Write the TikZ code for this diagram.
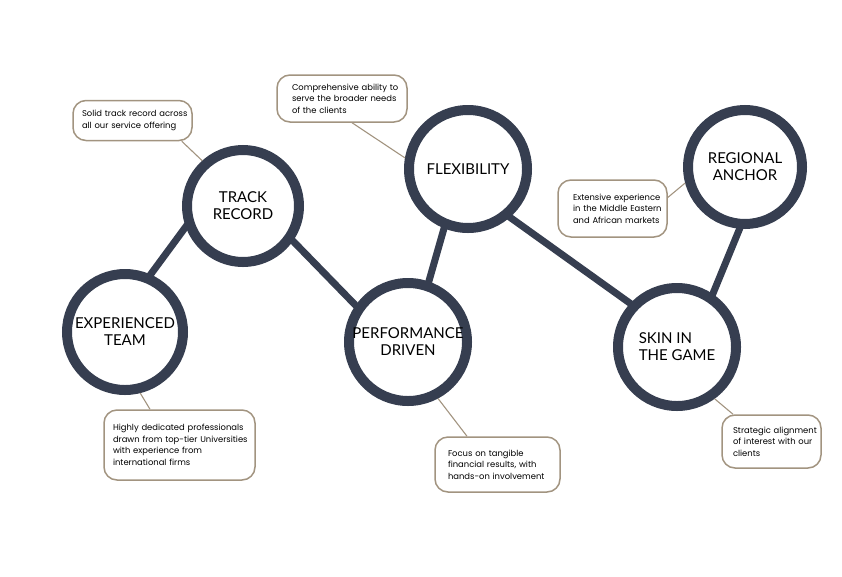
\documentclass[tikz,border=0pt]{standalone}
\usepackage{fontspec}
\setmainfont{Lato}
\newfontfamily\boxfont{Poppins}
\usetikzlibrary{calc}
\definecolor{navy}{HTML}{363E50}
\definecolor{tanline}{HTML}{A29480}
\begin{document}
\begin{tikzpicture}[x=1pt,y=-1pt,
  ring/.style={circle, draw=navy, line width=10pt, fill=white, inner sep=0pt,
    align=center, font=\fontsize{15}{17}\selectfont, text=black},
  link/.style={draw=navy, line width=7pt, shorten <=-4pt, shorten >=-4pt},
  note/.style={draw=tanline, line width=1.5pt, rounded corners=13pt, fill=white,
    align=left, font=\boxfont\fontsize{8.4}{11.6}\selectfont, inner ysep=0pt, text=black},
  lead/.style={draw=tanline, line width=1.1pt}]
\useasboundingbox (0,0) rectangle (842,576);

% circles
\node[ring, minimum size=112pt] (track) at (243,206) {TRACK\\RECORD};
\node[ring, minimum size=116pt] (exp) at (125,332) {EXPERIENCED\\TEAM};
\node[ring, minimum size=118pt] (perf) at (408,342) {PERFORMANCE\\DRIVEN};
\node[ring, minimum size=118pt] (flex) at (468,169) {FLEXIBILITY};
\node[ring, minimum size=114pt] (reg) at (745,167) {REGIONAL\\ANCHOR};
\node[ring, minimum size=118pt, align=left] (skin) at (677,347) {SKIN IN\\THE GAME};

% links between circles
\draw[link] (track.200) -- (exp.66);
\draw[link] (track.325) -- (perf.145);
\draw[link] (flex.248) -- (perf.71);
\draw[link] (flex.311) -- (skin.137);
\draw[link] (reg.265) -- (skin.56);

% callout boxes
\node[note, text width=101pt, inner xsep=9pt, minimum height=40pt] (b1) at (132.5,120.5)
  {\mbox{Solid track record across}\\\mbox{all our service offering}};
\node[note, text width=100pt, inner xsep=15pt, minimum height=47pt] (b2) at (342,98.5)
  {\mbox{Comprehensive ability to}\\\mbox{serve the broader needs}\\\mbox{of the clients}};
\node[note, text width=79pt, inner xsep=15pt, minimum height=57pt] (b3) at (612.5,208.5)
  {\mbox{Extensive experience}\\\mbox{in the Middle Eastern}\\\mbox{and African markets}};
\node[note, text width=133pt, inner xsep=9pt, minimum height=70pt] (b4) at (179.5,445)
  {\mbox{Highly dedicated professionals}\\\mbox{drawn from top-tier Universities}\\\mbox{with experience from}\\\mbox{international firms}};
\node[note, text width=99pt, inner xsep=13pt, minimum height=55pt] (b5) at (497.5,464.5)
  {\mbox{Focus on tangible}\\\mbox{financial results, with}\\\mbox{hands-on involvement}};
\node[note, text width=77pt, inner xsep=11pt, minimum height=53pt] (b6) at (771.5,441.5)
  {\mbox{Strategic alignment}\\\mbox{of interest with our}\\\mbox{clients}};

% callout leads
\draw[lead] ($(b1.south east)+(-11,0)$) -- (track.132);
\draw[lead] ($(b2.south)+(10,0)$) -- (flex.170);
\draw[lead] ($(b3.east)+(0,-11)$) -- (reg.195);
\draw[lead] ($(b4.north)+(-29.5,0)$) -- (exp.284);
\draw[lead] ($(b5.north)+(-30.5,0)$) -- (perf.298);
\draw[lead] ($(b6.north)+(-38.5,0)$) -- (skin.306);
\end{tikzpicture}
\end{document}
